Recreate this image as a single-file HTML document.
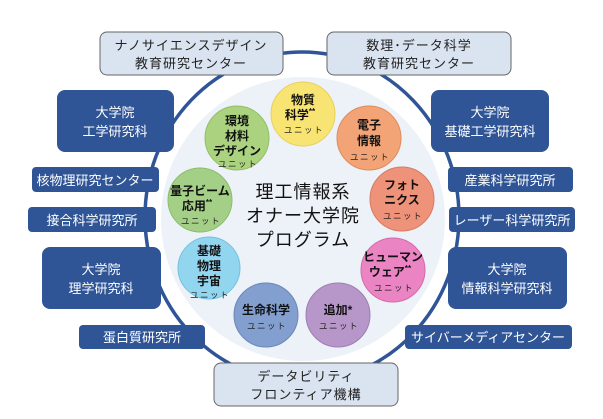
<!DOCTYPE html>
<html><head><meta charset="utf-8"><style>
html,body{margin:0;padding:0;background:#fff;}
svg{display:block;}
text{font-family:"Liberation Sans","Noto Sans CJK JP",sans-serif;}
</style></head><body>
<svg width="603" height="419" viewBox="0 0 603 419" xmlns="http://www.w3.org/2000/svg">
<ellipse cx="302" cy="217" rx="157" ry="165" fill="none" stroke="#2f5597" stroke-width="3.5"/>
<circle cx="303" cy="219" r="142" fill="#edf2f9"/>

<!-- light boxes -->
<g fill="#dae3f0" stroke="#666" stroke-width="1">
<rect x="100" y="32" width="183" height="43" rx="7"/>
<rect x="327" y="32" width="184" height="43" rx="7"/>
<rect x="214" y="363" width="184" height="43" rx="7"/>
</g>
<g font-size="13" fill="#222" text-anchor="middle" letter-spacing="1">
<text x="191" y="50">ナノサイエンスデザイン</text>
<text x="191" y="68">教育研究センター</text>
<text x="419" y="50">数理･データ科学</text>
<text x="419" y="68">教育研究センター</text>
<text x="306" y="381">データビリティ</text>
<text x="306" y="399">フロンティア機構</text>
</g>

<!-- dark boxes -->
<g fill="#2f5597">
<rect x="57" y="90" width="117" height="62" rx="8"/>
<rect x="431" y="90" width="118" height="62" rx="8"/>
<rect x="32" y="167" width="127" height="25" rx="4"/>
<rect x="448" y="167" width="125" height="25" rx="4"/>
<rect x="28" y="207" width="128" height="25" rx="4"/>
<rect x="449" y="207" width="126" height="25" rx="4"/>
<rect x="42" y="247" width="119" height="62" rx="8"/>
<rect x="448" y="247" width="119" height="62" rx="8"/>
<rect x="79" y="325" width="126" height="24" rx="4"/>
<rect x="405" y="325" width="167" height="24" rx="4"/>
</g>
<g font-size="13" fill="#fff" text-anchor="middle">
<text x="115" y="117">大学院</text>
<text x="115" y="136">工学研究科</text>
<text x="490" y="117">大学院</text>
<text x="490" y="136">基礎工学研究科</text>
<text x="95" y="185">核物理研究センター</text>
<text x="510" y="185">産業科学研究所</text>
<text x="92" y="225">接合科学研究所</text>
<text x="512" y="225">レーザー科学研究所</text>
<text x="101" y="274">大学院</text>
<text x="101" y="293">理学研究科</text>
<text x="507" y="274">大学院</text>
<text x="507" y="293">情報科学研究科</text>
<text x="142" y="342">蛋白質研究所</text>
<text x="488" y="342">サイバーメディアセンター</text>
</g>

<!-- unit circles -->
<g stroke-width="1">
<circle cx="303" cy="114" r="32" fill="#f7e472" stroke="#e8d060"/>
<circle cx="369" cy="138" r="32" fill="#f2a476" stroke="#e08a5a"/>
<circle cx="402" cy="199" r="32" fill="#ee927a" stroke="#d87a62"/>
<circle cx="393" cy="270" r="32" fill="#eb84c2" stroke="#d46aa8"/>
<circle cx="338" cy="315" r="32" fill="#b797c9" stroke="#9f7db3"/>
<circle cx="266" cy="315" r="32" fill="#829fd0" stroke="#6a86ba"/>
<circle cx="209" cy="268" r="31" fill="#92d5ef" stroke="#76c0dd"/>
<circle cx="200" cy="200" r="32" fill="#a4cf86" stroke="#8cbd6c"/>
<circle cx="237" cy="138" r="32" fill="#abd27f" stroke="#92bf66"/>
</g>
<g font-size="12" font-weight="bold" fill="#111" text-anchor="middle">
<text x="303" y="104">物質</text>
<text x="300" y="119">科学<tspan font-size="8" dy="-5">**</tspan></text>
<text x="369" y="129">電子</text>
<text x="369" y="145">情報</text>
<text x="402" y="189">フォト</text>
<text x="402" y="204">ニクス</text>
<text x="393" y="261">ヒューマン</text>
<text x="390" y="276">ウェア<tspan font-size="8" dy="-5">**</tspan></text>
<text x="338" y="314">追加*</text>
<text x="266" y="314">生命科学</text>
<text x="209" y="255">基礎</text>
<text x="209" y="270">物理</text>
<text x="209" y="285">宇宙</text>
<text x="200" y="195">量子ビーム</text>
<text x="197" y="210">応用<tspan font-size="8" dy="-5">**</tspan></text>
<text x="237" y="125">環境</text>
<text x="237" y="140">材料</text>
<text x="237" y="155">デザイン</text>
</g>
<g font-size="8.5" fill="#222" text-anchor="middle" letter-spacing="1.5">
<text x="304" y="133">ユニット</text>
<text x="370" y="160">ユニット</text>
<text x="403" y="219">ユニット</text>
<text x="394" y="291">ユニット</text>
<text x="339" y="329">ユニット</text>
<text x="267" y="329">ユニット</text>
<text x="210" y="298">ユニット</text>
<text x="201" y="224">ユニット</text>
<text x="238" y="167">ユニット</text>
</g>
<g font-size="18" fill="#111" text-anchor="middle" letter-spacing="1">
<text x="303" y="198">理工情報系</text>
<text x="303" y="222">オナー大学院</text>
<text x="303" y="246">プログラム</text>
</g>
</svg>
</body></html>
